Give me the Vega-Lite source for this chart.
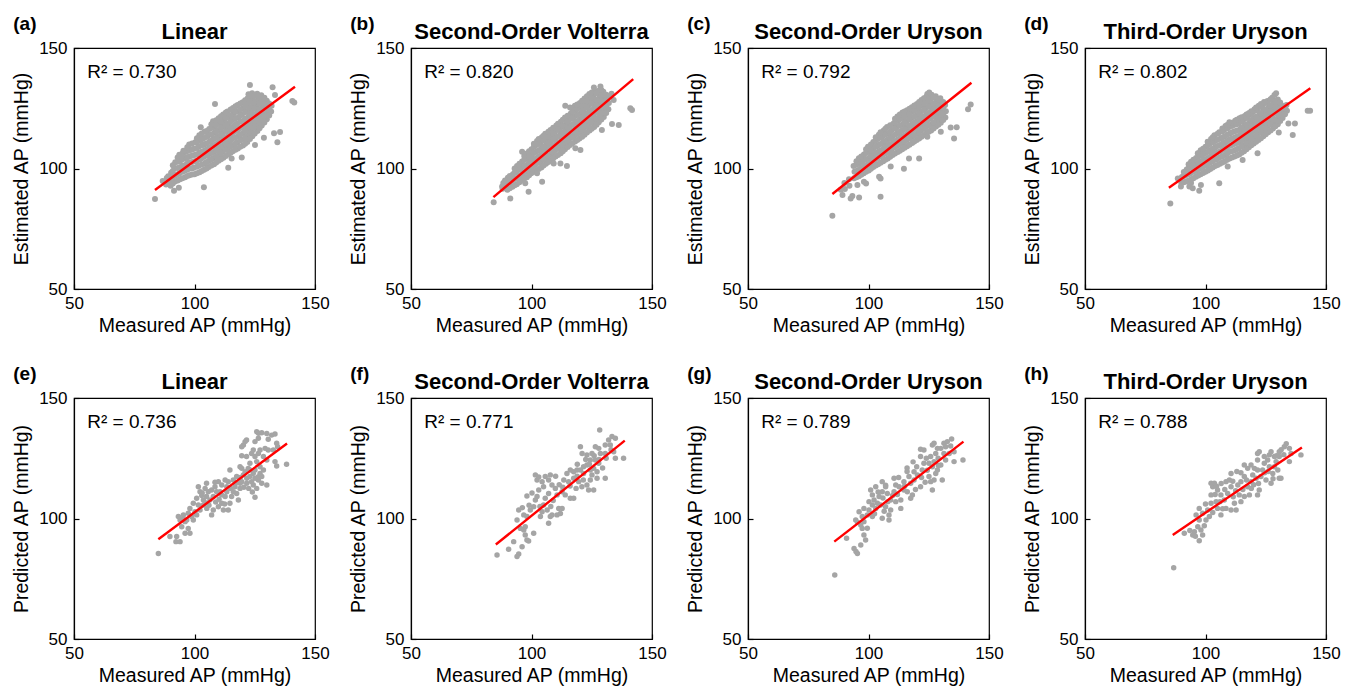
{
"$schema": "https://vega.github.io/schema/vega-lite/v6.json",
"background": "white",
"padding": {"left": 11, "top": 14, "right": 5, "bottom": 5},
"columns": 4,
"spacing": {"row": 109, "column": 96},
"bounds": "flush",
"concat": [
{"width": 241, "height": 241, "title": "Linear", "layer": [
 {"data": {"values": "x,y\n88.2,93.4\n88.5,96.1\n90.1,92.8\n89.8,95.3\n90.3,98.2\n91.9,94.6\n92.2,97.2\n91.7,100.1\n92.0,102.6\n94.0,95.5\n93.8,98.0\n94.3,100.6\n94.0,103.2\n93.7,105.7\n96.1,96.4\n95.9,99.1\n96.3,101.5\n96.0,104.3\n96.2,106.8\n97.9,97.2\n98.2,100.0\n97.7,102.6\n98.0,105.1\n98.3,107.7\n97.8,110.0\n100.0,97.6\n99.7,100.3\n100.2,103.0\n100.0,105.6\n99.8,108.2\n100.3,110.9\n102.1,98.4\n101.9,101.2\n102.3,103.8\n102.0,106.5\n101.8,109.1\n102.2,111.6\n102.0,113.8\n104.0,99.5\n104.3,102.1\n103.8,104.9\n104.1,107.4\n104.0,110.0\n103.7,112.6\n104.2,115.3\n105.9,100.6\n106.2,103.3\n105.8,105.8\n106.0,108.5\n106.3,111.1\n105.7,113.7\n106.1,116.4\n108.1,101.8\n107.8,104.4\n108.2,107.0\n108.0,109.6\n107.9,112.2\n108.3,114.8\n108.0,117.3\n107.7,119.6\n110.0,103.2\n110.2,105.7\n109.8,108.3\n110.1,110.9\n110.0,113.4\n109.7,116.0\n110.3,118.6\n110.0,120.8\n112.0,104.5\n111.8,107.1\n112.2,109.6\n112.0,112.2\n111.7,114.8\n112.1,117.4\n112.3,119.9\n111.9,122.4\n114.1,105.9\n113.9,108.4\n114.2,111.0\n114.0,113.6\n113.8,116.2\n114.3,118.7\n114.0,121.3\n113.7,123.7\n115.9,107.2\n116.2,109.8\n115.8,112.4\n116.0,115.0\n116.3,117.5\n115.7,120.1\n116.1,122.6\n116.0,125.1\n118.0,108.3\n117.8,110.9\n118.2,113.5\n118.0,116.1\n117.7,118.7\n118.3,121.3\n118.0,123.8\n117.9,126.4\n120.1,109.5\n119.8,112.1\n120.2,114.7\n120.0,117.2\n120.3,119.8\n119.7,122.4\n120.1,124.9\n120.0,127.5\n121.9,111.0\n122.2,113.6\n121.8,116.2\n122.0,118.8\n122.3,121.3\n121.7,123.9\n122.1,126.5\n122.0,129.0\n122.4,130.8\n124.0,113.4\n123.8,115.9\n124.2,118.5\n124.0,121.0\n123.7,123.6\n124.3,126.2\n124.0,128.7\n123.9,131.2\n126.1,115.6\n125.8,118.2\n126.2,120.7\n126.0,123.3\n125.7,125.8\n126.3,128.4\n126.0,131.0\n127.9,117.8\n128.2,120.3\n127.8,122.9\n128.0,125.4\n128.3,128.0\n127.7,130.4\n130.0,120.4\n129.8,123.0\n130.2,125.5\n130.0,128.1\n131.8,123.6\n132.0,126.0\n89.1,94.2\n89.1,96.8\n91.0,93.8\n91.0,96.4\n91.0,99.0\n91.0,101.3\n93.0,95.0\n93.0,97.6\n93.0,100.2\n93.0,102.8\n93.0,104.6\n95.0,96.0\n95.0,98.6\n95.0,101.2\n95.0,103.8\n95.0,106.2\n97.0,96.9\n97.0,99.5\n97.0,102.1\n97.0,104.7\n97.0,107.3\n97.0,108.8\n99.0,97.5\n99.0,100.1\n99.0,102.7\n99.0,105.3\n99.0,107.9\n99.0,110.4\n101.0,98.0\n101.0,100.7\n101.0,103.3\n101.0,105.9\n101.0,108.5\n101.0,111.1\n101.0,112.6\n103.0,99.0\n103.0,101.7\n103.0,104.3\n103.0,106.9\n103.0,109.5\n103.0,112.1\n103.0,114.5\n105.0,100.0\n105.0,102.7\n105.0,105.3\n105.0,107.9\n105.0,110.5\n105.0,113.1\n105.0,115.6\n107.0,101.2\n107.0,103.8\n107.0,106.4\n107.0,109.0\n107.0,111.6\n107.0,114.2\n107.0,116.8\n107.0,118.4\n109.0,102.5\n109.0,105.0\n109.0,107.6\n109.0,110.2\n109.0,112.8\n109.0,115.4\n109.0,118.0\n109.0,120.0\n111.0,103.8\n111.0,106.4\n111.0,109.0\n111.0,111.6\n111.0,114.2\n111.0,116.8\n111.0,119.4\n111.0,121.7\n113.0,105.2\n113.0,107.8\n113.0,110.4\n113.0,113.0\n113.0,115.6\n113.0,118.2\n113.0,120.8\n113.0,123.2\n115.0,106.5\n115.0,109.1\n115.0,111.7\n115.0,114.3\n115.0,116.9\n115.0,119.5\n115.0,122.1\n115.0,124.5\n117.0,107.8\n117.0,110.4\n117.0,113.0\n117.0,115.6\n117.0,118.2\n117.0,120.8\n117.0,123.4\n117.0,125.8\n119.0,109.0\n119.0,111.6\n119.0,114.2\n119.0,116.8\n119.0,119.4\n119.0,122.0\n119.0,124.6\n119.0,127.0\n121.0,110.3\n121.0,112.9\n121.0,115.5\n121.0,118.1\n121.0,120.7\n121.0,123.3\n121.0,125.9\n121.0,128.3\n123.0,112.2\n123.0,114.8\n123.0,117.4\n123.0,120.0\n123.0,122.6\n123.0,125.2\n123.0,127.8\n123.0,130.2\n125.0,114.5\n125.0,117.1\n125.0,119.7\n125.0,122.3\n125.0,124.9\n125.0,127.5\n125.0,130.1\n127.0,116.7\n127.0,119.3\n127.0,121.9\n127.0,124.5\n127.0,127.1\n127.0,129.7\n129.0,119.1\n129.0,121.7\n129.0,124.3\n129.0,126.9\n129.0,129.4\n131.0,122.0\n131.0,124.6\n131.0,127.0\n83.6,87.3\n86.8,94.8\n91.5,90.8\n93.5,92.0\n123.0,134.6\n132.4,133.7\n133.4,130.5\n140.6,128.0\n141.4,127.4\n108.5,126.8\n128.8,112.8\n133.0,114.6\n135.5,115.1\n134.4,110.9\n114.0,100.3\n119.6,104.6\n115.4,104.2\n103.9,92.2\n95.4,107.4\n94.7,105.2\n102.6,117.1\n125.1,109.8", "format": {"type": "csv", "parse": {"x": "number", "y": "number"}}},
  "mark": {"type": "circle", "size": 36, "color": "#a5a5a5", "opacity": 1},
  "encoding": {"x": {"field": "x", "type": "quantitative", "scale": {"domain": [50, 150]}, "axis": {"title": "Measured AP (mmHg)", "values": [50, 100, 150]}},
               "y": {"field": "y", "type": "quantitative", "scale": {"domain": [50, 150]}, "axis": {"title": "Estimated AP (mmHg)", "values": [50, 100, 150]}}}},
 {"data": {"values": [{"x": 83.6, "y": 91.1}, {"x": 141.7, "y": 133.9}]}, "mark": {"type": "line", "color": "#ff0000", "strokeWidth": 2.4},
  "encoding": {"x": {"field": "x", "type": "quantitative", "axis": {"title": "Measured AP (mmHg)", "values": [50, 100, 150]}}, "y": {"field": "y", "type": "quantitative", "axis": {"title": "Estimated AP (mmHg)", "values": [50, 100, 150]}}}},
 {"data": {"values": [{"t": "R² = 0.730"}]}, "mark": {"type": "text", "align": "left", "baseline": "middle", "fontSize": 19},
  "encoding": {"x": {"datum": 55.5}, "y": {"datum": 140.2}, "text": {"field": "t"}}},
 {"data": {"values": [{"t": "(a)"}]}, "mark": {"type": "text", "align": "left", "baseline": "middle", "fontSize": 19, "fontWeight": "bold"},
  "encoding": {"x": {"datum": 24.8}, "y": {"datum": 160}, "text": {"field": "t"}}}
]},
{"width": 241, "height": 241, "title": "Second-Order Volterra", "layer": [
 {"data": {"values": "x,y\n88.0,91.6\n88.3,94.0\n90.0,91.2\n89.8,93.8\n90.2,96.2\n92.1,92.4\n91.9,95.0\n92.3,97.6\n93.9,93.5\n94.2,96.1\n93.8,98.7\n94.0,101.0\n96.0,95.2\n96.3,97.8\n95.8,100.4\n96.1,102.9\n98.1,96.4\n97.8,99.0\n98.2,101.6\n98.0,104.2\n98.3,106.3\n99.9,98.0\n100.2,100.6\n99.8,103.2\n100.1,105.7\n100.0,108.0\n102.0,99.2\n101.8,101.8\n102.2,104.4\n102.0,107.0\n101.7,109.6\n102.3,111.4\n104.1,100.4\n103.9,103.0\n104.2,105.6\n104.0,108.2\n103.8,110.8\n104.3,113.0\n106.0,102.0\n106.2,104.6\n105.8,107.2\n106.1,109.8\n106.0,112.3\n105.7,114.4\n107.9,103.4\n108.2,106.0\n107.8,108.6\n108.0,111.2\n108.3,113.7\n107.9,116.0\n110.0,105.0\n109.8,107.6\n110.2,110.2\n110.0,112.8\n109.7,115.3\n110.3,117.8\n112.1,106.3\n111.9,108.9\n112.3,111.5\n112.0,114.1\n111.8,116.7\n112.2,119.4\n113.9,108.0\n114.2,110.6\n113.8,113.2\n114.0,115.8\n114.3,118.4\n113.9,121.2\n116.0,109.8\n115.8,112.4\n116.2,115.0\n116.0,117.6\n115.7,120.2\n116.3,122.8\n118.1,111.2\n117.9,113.8\n118.2,116.4\n118.0,119.0\n117.8,121.6\n118.3,124.2\n118.0,126.0\n119.9,112.4\n120.2,115.0\n119.8,117.6\n120.0,120.2\n120.3,122.8\n119.7,125.4\n120.1,127.2\n122.0,114.0\n121.8,116.6\n122.2,119.2\n122.0,121.8\n121.7,124.4\n122.3,127.0\n122.0,129.0\n124.1,115.8\n123.9,118.4\n124.2,121.0\n124.0,123.6\n123.8,126.2\n124.3,128.8\n124.0,130.9\n126.0,117.2\n126.2,119.8\n125.8,122.4\n126.1,125.0\n126.0,127.6\n125.7,130.2\n126.2,132.2\n127.9,119.2\n128.2,121.8\n127.8,124.4\n128.0,127.0\n128.3,129.6\n127.9,132.3\n130.0,121.4\n129.8,124.0\n130.2,126.6\n130.0,129.2\n129.8,131.8\n131.9,124.6\n132.1,127.2\n131.8,129.8\n89.0,92.5\n89.0,95.0\n91.0,91.8\n91.0,94.4\n91.0,96.9\n93.0,93.0\n93.0,95.6\n93.0,98.2\n93.0,100.0\n95.0,94.3\n95.0,96.9\n95.0,99.5\n95.0,102.0\n97.0,95.8\n97.0,98.4\n97.0,101.0\n97.0,103.6\n97.0,105.2\n99.0,97.2\n99.0,99.8\n99.0,102.4\n99.0,105.0\n99.0,107.2\n101.0,98.6\n101.0,101.2\n101.0,103.8\n101.0,106.4\n101.0,109.0\n101.0,110.3\n103.0,99.8\n103.0,102.4\n103.0,105.0\n103.0,107.6\n103.0,110.2\n103.0,112.2\n105.0,101.2\n105.0,103.8\n105.0,106.4\n105.0,109.0\n105.0,111.6\n105.0,113.6\n107.0,102.7\n107.0,105.3\n107.0,107.9\n107.0,110.5\n107.0,113.1\n107.0,115.3\n109.0,104.2\n109.0,106.8\n109.0,109.4\n109.0,112.0\n109.0,114.6\n109.0,116.9\n111.0,105.6\n111.0,108.2\n111.0,110.8\n111.0,113.4\n111.0,116.0\n111.0,118.6\n113.0,107.2\n113.0,109.8\n113.0,112.4\n113.0,115.0\n113.0,117.6\n113.0,120.2\n115.0,108.9\n115.0,111.5\n115.0,114.1\n115.0,116.7\n115.0,119.3\n115.0,121.9\n117.0,110.5\n117.0,113.1\n117.0,115.7\n117.0,118.3\n117.0,120.9\n117.0,123.5\n117.0,125.0\n119.0,111.8\n119.0,114.4\n119.0,117.0\n119.0,119.6\n119.0,122.2\n119.0,124.8\n119.0,126.6\n121.0,113.2\n121.0,115.8\n121.0,118.4\n121.0,121.0\n121.0,123.6\n121.0,126.2\n121.0,128.1\n123.0,114.9\n123.0,117.5\n123.0,120.1\n123.0,122.7\n123.0,125.3\n123.0,127.9\n123.0,130.0\n125.0,116.5\n125.0,119.1\n125.0,121.7\n125.0,124.3\n125.0,126.9\n125.0,129.5\n125.0,131.5\n127.0,118.2\n127.0,120.8\n127.0,123.4\n127.0,126.0\n127.0,128.6\n127.0,131.2\n129.0,120.3\n129.0,122.9\n129.0,125.5\n129.0,128.1\n129.0,130.7\n129.0,132.6\n131.0,123.0\n131.0,125.6\n131.0,128.2\n131.0,130.6\n84.3,86.0\n87.8,92.5\n91.2,87.6\n96.1,107.0\n98.8,90.4\n97.4,93.9\n104.4,94.5\n102.3,98.0\n109.2,102.1\n112.0,102.1\n114.7,101.0\n118.2,108.4\n120.3,107.7\n114.0,126.0\n116.0,125.3\n129.2,116.0\n133.4,118.5\n136.2,118.1\n141.0,125.0\n141.7,124.3\n134.1,128.4\n128.6,134.0\n125.9,133.6\n133.2,131.0", "format": {"type": "csv", "parse": {"x": "number", "y": "number"}}},
  "mark": {"type": "circle", "size": 36, "color": "#a5a5a5", "opacity": 1},
  "encoding": {"x": {"field": "x", "type": "quantitative", "scale": {"domain": [50, 150]}, "axis": {"title": "Measured AP (mmHg)", "values": [50, 100, 150]}},
               "y": {"field": "y", "type": "quantitative", "scale": {"domain": [50, 150]}, "axis": {"title": "Estimated AP (mmHg)", "values": [50, 100, 150]}}}},
 {"data": {"values": [{"x": 84.2, "y": 88.1}, {"x": 142.2, "y": 137.1}]}, "mark": {"type": "line", "color": "#ff0000", "strokeWidth": 2.4},
  "encoding": {"x": {"field": "x", "type": "quantitative", "axis": {"title": "Measured AP (mmHg)", "values": [50, 100, 150]}}, "y": {"field": "y", "type": "quantitative", "axis": {"title": "Estimated AP (mmHg)", "values": [50, 100, 150]}}}},
 {"data": {"values": [{"t": "R² = 0.820"}]}, "mark": {"type": "text", "align": "left", "baseline": "middle", "fontSize": 19},
  "encoding": {"x": {"datum": 55.5}, "y": {"datum": 140.2}, "text": {"field": "t"}}},
 {"data": {"values": [{"t": "(b)"}]}, "mark": {"type": "text", "align": "left", "baseline": "middle", "fontSize": 19, "fontWeight": "bold"},
  "encoding": {"x": {"datum": 24.8}, "y": {"datum": 160}, "text": {"field": "t"}}}
]},
{"width": 241, "height": 241, "title": "Second-Order Uryson", "layer": [
 {"data": {"values": "x,y\n90.2,91.5\n90.0,94.0\n92.1,92.8\n91.9,95.5\n94.0,96.0\n94.2,98.6\n93.8,101.0\n96.0,96.8\n95.8,99.4\n96.2,102.0\n96.0,104.3\n98.0,98.0\n98.2,100.6\n97.8,103.2\n98.1,105.8\n100.1,99.2\n99.9,101.8\n100.2,104.4\n100.0,107.0\n99.8,109.0\n102.0,100.6\n102.2,103.2\n101.8,105.8\n102.1,108.4\n102.0,111.0\n104.0,101.8\n103.8,104.4\n104.2,107.0\n104.0,109.6\n103.7,112.2\n104.3,114.0\n106.1,103.0\n105.9,105.6\n106.2,108.2\n106.0,110.8\n105.8,113.4\n106.3,115.8\n108.0,104.2\n108.2,106.8\n107.8,109.4\n108.0,112.0\n108.3,114.6\n107.7,117.2\n110.0,105.6\n109.8,108.2\n110.2,110.8\n110.0,113.4\n109.7,116.0\n110.3,118.6\n112.1,106.8\n111.9,109.4\n112.3,112.0\n112.0,114.6\n111.8,117.2\n112.2,119.8\n112.0,121.6\n114.0,108.0\n114.2,110.6\n113.8,113.2\n114.0,115.8\n114.3,118.4\n113.9,121.0\n114.1,123.2\n116.0,109.2\n115.8,111.8\n116.2,114.4\n116.0,117.0\n115.7,119.6\n116.3,122.2\n116.0,124.2\n118.1,110.6\n117.9,113.2\n118.2,115.8\n118.0,118.4\n117.8,121.0\n118.3,123.6\n118.0,125.4\n120.0,111.8\n120.2,114.4\n119.8,117.0\n120.0,119.6\n120.3,122.2\n119.7,124.8\n120.1,126.8\n122.0,113.2\n121.8,115.8\n122.2,118.4\n122.0,121.0\n121.7,123.6\n122.3,126.2\n122.0,128.4\n124.1,114.6\n123.9,117.2\n124.2,119.8\n124.0,122.4\n123.8,125.0\n124.3,127.6\n124.0,129.8\n126.0,115.8\n126.2,118.4\n125.8,121.0\n126.1,123.6\n126.0,126.2\n125.7,128.8\n126.2,130.6\n128.0,117.4\n128.2,120.0\n127.8,122.6\n128.0,125.2\n128.3,127.8\n127.9,130.0\n130.0,119.0\n129.8,121.6\n130.2,124.2\n130.0,126.8\n129.8,129.2\n131.9,121.2\n132.1,123.8\n131.8,126.4\n95.0,96.4\n95.0,99.0\n95.0,101.6\n95.0,103.0\n97.0,97.4\n97.0,100.0\n97.0,102.6\n97.0,105.0\n99.0,98.6\n99.0,101.2\n99.0,103.8\n99.0,106.4\n99.0,108.0\n101.0,99.9\n101.0,102.5\n101.0,105.1\n101.0,107.7\n101.0,110.0\n103.0,101.2\n103.0,103.8\n103.0,106.4\n103.0,109.0\n103.0,111.6\n103.0,113.0\n105.0,102.4\n105.0,105.0\n105.0,107.6\n105.0,110.2\n105.0,112.8\n105.0,115.0\n107.0,103.6\n107.0,106.2\n107.0,108.8\n107.0,111.4\n107.0,114.0\n107.0,116.5\n109.0,104.9\n109.0,107.5\n109.0,110.1\n109.0,112.7\n109.0,115.3\n109.0,117.9\n111.0,106.2\n111.0,108.8\n111.0,111.4\n111.0,114.0\n111.0,116.6\n111.0,119.2\n111.0,120.6\n113.0,107.4\n113.0,110.0\n113.0,112.6\n113.0,115.2\n113.0,117.8\n113.0,120.4\n113.0,122.4\n115.0,108.6\n115.0,111.2\n115.0,113.8\n115.0,116.4\n115.0,119.0\n115.0,121.6\n115.0,123.7\n117.0,109.9\n117.0,112.5\n117.0,115.1\n117.0,117.7\n117.0,120.3\n117.0,122.9\n117.0,124.8\n119.0,111.2\n119.0,113.8\n119.0,116.4\n119.0,119.0\n119.0,121.6\n119.0,124.2\n119.0,126.1\n121.0,112.5\n121.0,115.1\n121.0,117.7\n121.0,120.3\n121.0,122.9\n121.0,125.5\n121.0,127.6\n123.0,113.9\n123.0,116.5\n123.0,119.1\n123.0,121.7\n123.0,124.3\n123.0,126.9\n123.0,129.1\n125.0,115.2\n125.0,117.8\n125.0,120.4\n125.0,123.0\n125.0,125.6\n125.0,128.2\n125.0,130.2\n127.0,116.6\n127.0,119.2\n127.0,121.8\n127.0,124.4\n127.0,127.0\n127.0,129.4\n129.0,118.2\n129.0,120.8\n129.0,123.4\n129.0,126.0\n129.0,128.6\n131.0,120.1\n131.0,122.7\n131.0,125.3\n131.0,127.6\n85.0,80.4\n89.2,89.0\n92.6,87.6\n93.3,88.6\n96.1,88.0\n105.0,88.3\n88.5,91.2\n95.4,93.2\n98.1,94.5\n99.0,93.8\n104.4,96.6\n105.0,95.9\n109.2,100.8\n114.7,99.9\n116.8,104.2\n121.0,104.2\n130.0,115.3\n134.1,117.0\n136.6,117.1\n135.5,112.5\n124.4,113.2\n142.4,126.6\n141.3,124.6\n124.4,130.9\n125.2,131.5", "format": {"type": "csv", "parse": {"x": "number", "y": "number"}}},
  "mark": {"type": "circle", "size": 36, "color": "#a5a5a5", "opacity": 1},
  "encoding": {"x": {"field": "x", "type": "quantitative", "scale": {"domain": [50, 150]}, "axis": {"title": "Measured AP (mmHg)", "values": [50, 100, 150]}},
               "y": {"field": "y", "type": "quantitative", "scale": {"domain": [50, 150]}, "axis": {"title": "Estimated AP (mmHg)", "values": [50, 100, 150]}}}},
 {"data": {"values": [{"x": 85.0, "y": 89.4}, {"x": 142.7, "y": 135.6}]}, "mark": {"type": "line", "color": "#ff0000", "strokeWidth": 2.4},
  "encoding": {"x": {"field": "x", "type": "quantitative", "axis": {"title": "Measured AP (mmHg)", "values": [50, 100, 150]}}, "y": {"field": "y", "type": "quantitative", "axis": {"title": "Estimated AP (mmHg)", "values": [50, 100, 150]}}}},
 {"data": {"values": [{"t": "R² = 0.792"}]}, "mark": {"type": "text", "align": "left", "baseline": "middle", "fontSize": 19},
  "encoding": {"x": {"datum": 55.5}, "y": {"datum": 140.2}, "text": {"field": "t"}}},
 {"data": {"values": [{"t": "(c)"}]}, "mark": {"type": "text", "align": "left", "baseline": "middle", "fontSize": 19, "fontWeight": "bold"},
  "encoding": {"x": {"datum": 24.8}, "y": {"datum": 160}, "text": {"field": "t"}}}
]},
{"width": 241, "height": 241, "title": "Third-Order Uryson", "layer": [
 {"data": {"values": "x,y\n90.0,94.0\n90.2,96.5\n92.0,94.6\n91.8,97.2\n92.2,99.6\n94.0,95.4\n93.8,98.0\n94.2,100.6\n94.0,102.8\n96.0,96.6\n96.2,99.2\n95.8,101.8\n96.1,104.4\n98.0,97.6\n98.2,100.2\n97.8,102.8\n98.1,105.4\n98.0,107.6\n100.0,98.6\n100.2,101.2\n99.8,103.8\n100.1,106.4\n100.0,109.0\n102.0,99.8\n101.8,102.4\n102.2,105.0\n102.0,107.6\n101.7,110.2\n102.3,112.2\n104.0,101.0\n104.2,103.6\n103.8,106.2\n104.1,108.8\n104.0,111.4\n103.7,113.8\n106.0,102.0\n105.8,104.6\n106.2,107.2\n106.0,109.8\n106.3,112.4\n105.7,115.0\n108.0,103.0\n108.2,105.6\n107.8,108.2\n108.1,110.8\n108.0,113.4\n107.7,116.0\n108.3,117.6\n110.0,104.2\n109.8,106.8\n110.2,109.4\n110.0,112.0\n110.3,114.6\n109.7,117.2\n112.0,105.0\n112.2,107.6\n111.8,110.2\n112.1,112.8\n112.0,115.4\n111.7,118.0\n112.3,119.8\n114.0,105.8\n113.8,108.4\n114.2,111.0\n114.0,113.6\n114.3,116.2\n113.7,118.8\n114.1,120.8\n116.0,107.2\n116.2,109.8\n115.8,112.4\n116.1,115.0\n116.0,117.6\n115.7,120.2\n116.3,121.8\n118.0,108.8\n117.8,111.4\n118.2,114.0\n118.0,116.6\n118.3,119.2\n117.7,121.8\n118.1,123.0\n120.0,110.4\n120.2,113.0\n119.8,115.6\n120.1,118.2\n120.0,120.8\n119.7,123.4\n120.3,124.6\n122.0,111.8\n121.8,114.4\n122.2,117.0\n122.0,119.6\n122.3,122.2\n121.7,124.8\n122.1,126.0\n124.0,113.4\n124.2,116.0\n123.8,118.6\n124.1,121.2\n124.0,123.8\n123.7,126.4\n124.3,127.6\n126.0,115.0\n125.8,117.6\n126.2,120.2\n126.0,122.8\n126.3,125.4\n125.7,128.0\n128.0,116.6\n128.2,119.2\n127.8,121.8\n128.1,124.4\n128.0,127.0\n127.7,129.4\n130.0,118.4\n130.2,121.0\n129.8,123.6\n130.1,126.2\n130.0,128.6\n132.0,121.0\n132.2,123.6\n131.8,126.0\n133.8,124.0\n133.6,126.4\n91.0,94.3\n91.0,96.9\n91.0,98.5\n93.0,95.0\n93.0,97.6\n93.0,100.2\n93.0,101.8\n95.0,96.0\n95.0,98.6\n95.0,101.2\n95.0,103.6\n97.0,97.1\n97.0,99.7\n97.0,102.3\n97.0,104.9\n97.0,106.2\n99.0,98.1\n99.0,100.7\n99.0,103.3\n99.0,105.9\n99.0,108.2\n101.0,99.2\n101.0,101.8\n101.0,104.4\n101.0,107.0\n101.0,109.6\n101.0,111.0\n103.0,100.4\n103.0,103.0\n103.0,105.6\n103.0,108.2\n103.0,110.8\n103.0,113.0\n105.0,101.5\n105.0,104.1\n105.0,106.7\n105.0,109.3\n105.0,111.9\n105.0,114.4\n107.0,102.5\n107.0,105.1\n107.0,107.7\n107.0,110.3\n107.0,112.9\n107.0,115.5\n107.0,116.6\n109.0,103.6\n109.0,106.2\n109.0,108.8\n109.0,111.4\n109.0,114.0\n109.0,116.6\n109.0,118.0\n111.0,104.6\n111.0,107.2\n111.0,109.8\n111.0,112.4\n111.0,115.0\n111.0,117.6\n111.0,119.0\n113.0,105.4\n113.0,108.0\n113.0,110.6\n113.0,113.2\n113.0,115.8\n113.0,118.4\n113.0,120.2\n115.0,106.5\n115.0,109.1\n115.0,111.7\n115.0,114.3\n115.0,116.9\n115.0,119.5\n115.0,121.3\n117.0,108.0\n117.0,110.6\n117.0,113.2\n117.0,115.8\n117.0,118.4\n117.0,121.0\n117.0,122.4\n119.0,109.6\n119.0,112.2\n119.0,114.8\n119.0,117.4\n119.0,120.0\n119.0,122.6\n119.0,123.8\n121.0,111.1\n121.0,113.7\n121.0,116.3\n121.0,118.9\n121.0,121.5\n121.0,124.1\n121.0,125.3\n123.0,112.6\n123.0,115.2\n123.0,117.8\n123.0,120.4\n123.0,123.0\n123.0,125.6\n123.0,126.8\n125.0,114.2\n125.0,116.8\n125.0,119.4\n125.0,122.0\n125.0,124.6\n125.0,127.2\n127.0,115.8\n127.0,118.4\n127.0,121.0\n127.0,123.6\n127.0,126.2\n127.0,128.7\n129.0,117.5\n129.0,120.1\n129.0,122.7\n129.0,125.3\n129.0,127.8\n131.0,119.7\n131.0,122.3\n131.0,124.9\n131.0,127.4\n133.0,122.5\n133.0,125.0\n85.4,85.5\n88.5,95.9\n89.8,92.5\n93.3,92.5\n94.7,91.8\n97.4,90.8\n98.1,93.2\n105.7,93.9\n94.0,94.0\n109.2,100.8\n115.4,103.5\n121.6,106.3\n130.4,114.9\n134.4,118.7\n137.1,118.7\n136.2,113.9\n142.4,124.0\n143.4,124.0\n128.6,130.5\n129.3,131.2\n117.5,122.5\n109.9,119.2\n100.9,111.1\n96.8,106.3", "format": {"type": "csv", "parse": {"x": "number", "y": "number"}}},
  "mark": {"type": "circle", "size": 36, "color": "#a5a5a5", "opacity": 1},
  "encoding": {"x": {"field": "x", "type": "quantitative", "scale": {"domain": [50, 150]}, "axis": {"title": "Measured AP (mmHg)", "values": [50, 100, 150]}},
               "y": {"field": "y", "type": "quantitative", "scale": {"domain": [50, 150]}, "axis": {"title": "Estimated AP (mmHg)", "values": [50, 100, 150]}}}},
 {"data": {"values": [{"x": 84.8, "y": 92.0}, {"x": 143.5, "y": 133.3}]}, "mark": {"type": "line", "color": "#ff0000", "strokeWidth": 2.4},
  "encoding": {"x": {"field": "x", "type": "quantitative", "axis": {"title": "Measured AP (mmHg)", "values": [50, 100, 150]}}, "y": {"field": "y", "type": "quantitative", "axis": {"title": "Estimated AP (mmHg)", "values": [50, 100, 150]}}}},
 {"data": {"values": [{"t": "R² = 0.802"}]}, "mark": {"type": "text", "align": "left", "baseline": "middle", "fontSize": 19},
  "encoding": {"x": {"datum": 55.5}, "y": {"datum": 140.2}, "text": {"field": "t"}}},
 {"data": {"values": [{"t": "(d)"}]}, "mark": {"type": "text", "align": "left", "baseline": "middle", "fontSize": 19, "fontWeight": "bold"},
  "encoding": {"x": {"datum": 24.8}, "y": {"datum": 160}, "text": {"field": "t"}}}
]},
{"width": 241, "height": 241, "title": "Linear", "layer": [
 {"data": {"values": "x,y\n85.0,85.5\n89.8,92.5\n92.6,92.5\n92.3,90.4\n94.0,90.4\n96.1,93.9\n98.1,93.9\n97.4,95.9\n94.7,96.6\n94.0,99.4\n96.1,98.7\n93.3,100.8\n95.4,101.5\n97.4,102.2\n98.1,104.2\n98.8,100.8\n100.2,102.8\n101.6,105.6\n99.5,106.3\n100.9,108.4\n102.3,111.1\n101.6,113.2\n103.0,109.5\n103.7,107.7\n104.4,112.5\n105.7,111.1\n106.4,107.7\n107.1,101.5\n107.8,103.5\n105.1,104.2\n109.9,104.9\n112.0,103.5\n111.3,106.3\n114.0,103.5\n114.7,106.3\n109.9,115.3\n110.6,111.1\n113.4,113.2\n114.0,115.3\n114.7,120.1\n116.8,113.2\n117.5,110.4\n118.9,112.5\n119.6,115.3\n120.3,118.1\n119.6,120.8\n118.9,121.5\n121.7,116.7\n122.3,120.8\n123.0,122.9\n124.4,113.9\n125.1,116.7\n125.1,108.8\n125.8,112.5\n126.5,116.0\n127.2,118.7\n127.9,114.6\n130.0,113.9\n125.8,123.6\n126.5,127.0\n125.1,125.7\n123.7,127.0\n124.4,128.4\n121.6,125.7\n119.6,126.0\n120.3,130.5\n121.0,131.9\n125.8,136.0\n126.6,135.4\n127.9,135.6\n130.0,135.3\n132.0,134.6\n133.4,135.1\n130.6,132.9\n134.1,131.2\n134.5,129.8\n132.7,128.4\n130.6,128.4\n129.3,129.1\n127.2,128.4\n128.6,125.7\n130.0,124.3\n133.4,123.6\n134.1,121.8\n138.2,122.5\n126.5,133.3\n125.1,131.9\n119.6,129.8\n121.6,132.6\n105.0,114.6\n107.1,111.8\n108.5,113.2\n109.2,111.1\n111.3,109.8\n112.7,109.1\n113.4,111.1\n115.4,109.1\n116.1,111.1\n118.2,107.7\n118.9,114.6\n121.7,114.6\n123.0,117.4\n123.7,115.3\n124.4,118.7\n126.5,117.3\n127.9,117.4\n128.6,120.1\n127.2,121.5\n125.1,120.1\n123.0,120.1\n121.0,119.4\n117.5,117.4\n116.1,116.0\n112.7,116.0\n111.3,113.9\n108.5,115.0\n107.8,109.1\n105.0,109.1\n103.2,110.6\n103.7,105.6\n102.3,103.5\n100.9,101.5\n99.5,99.4\n96.8,99.4\n95.2,99.8\n104.5,106.5\n106.0,105.5\n108.8,106.8\n110.2,108.0\n112.5,106.0\n115.0,112.5\n117.0,114.6\n119.0,117.0\n120.5,113.0\n122.5,112.5\n124.0,111.0", "format": {"type": "csv", "parse": {"x": "number", "y": "number"}}},
  "mark": {"type": "circle", "size": 30, "color": "#a5a5a5", "opacity": 1},
  "encoding": {"x": {"field": "x", "type": "quantitative", "scale": {"domain": [50, 150]}, "axis": {"title": "Measured AP (mmHg)", "values": [50, 100, 150]}},
               "y": {"field": "y", "type": "quantitative", "scale": {"domain": [50, 150]}, "axis": {"title": "Predicted AP (mmHg)", "values": [50, 100, 150]}}}},
 {"data": {"values": [{"x": 85.0, "y": 91.4}, {"x": 138.4, "y": 131.1}]}, "mark": {"type": "line", "color": "#ff0000", "strokeWidth": 2.4},
  "encoding": {"x": {"field": "x", "type": "quantitative", "axis": {"title": "Measured AP (mmHg)", "values": [50, 100, 150]}}, "y": {"field": "y", "type": "quantitative", "axis": {"title": "Predicted AP (mmHg)", "values": [50, 100, 150]}}}},
 {"data": {"values": [{"t": "R² = 0.736"}]}, "mark": {"type": "text", "align": "left", "baseline": "middle", "fontSize": 19},
  "encoding": {"x": {"datum": 55.5}, "y": {"datum": 140.2}, "text": {"field": "t"}}},
 {"data": {"values": [{"t": "(e)"}]}, "mark": {"type": "text", "align": "left", "baseline": "middle", "fontSize": 19, "fontWeight": "bold"},
  "encoding": {"x": {"datum": 24.8}, "y": {"datum": 160}, "text": {"field": "t"}}}
]},
{"width": 241, "height": 241, "title": "Second-Order Volterra", "layer": [
 {"data": {"values": "x,y\n85.7,84.9\n90.5,87.2\n94.7,85.3\n94.0,84.2\n92.6,90.4\n96.1,88.3\n98.1,91.1\n98.8,90.7\n97.4,93.2\n96.8,95.2\n97.4,96.6\n95.4,95.9\n100.9,93.9\n94.0,99.4\n94.7,103.5\n96.8,101.5\n98.1,100.8\n99.5,103.5\n100.9,104.9\n98.1,109.3\n101.6,107.7\n102.3,109.1\n103.0,111.8\n101.6,118.1\n103.7,100.8\n104.4,102.8\n107.1,98.0\n107.8,100.8\n108.5,101.5\n110.6,101.5\n112.0,102.1\n112.7,104.2\n111.3,104.2\n105.0,105.6\n105.7,108.4\n107.1,110.4\n105.0,113.2\n104.4,115.3\n107.1,116.0\n105.7,117.4\n107.8,118.1\n108.5,113.9\n109.9,112.5\n110.6,109.8\n112.7,111.1\n114.0,109.8\n116.1,108.4\n117.5,108.4\n113.4,116.0\n114.7,118.7\n115.4,115.3\n117.5,116.7\n117.5,119.4\n118.9,120.1\n120.3,120.1\n116.1,120.1\n118.9,117.5\n119.6,115.3\n121.6,118.7\n121.6,121.5\n123.0,122.2\n124.4,120.1\n125.8,120.8\n125.1,118.1\n124.4,116.0\n123.0,113.9\n120.9,113.2\n123.7,111.8\n125.8,111.8\n127.2,116.7\n127.2,119.4\n127.9,122.9\n126.5,124.3\n124.4,124.3\n123.0,126.4\n120.3,129.8\n121.0,127.0\n125.1,127.0\n126.5,129.8\n128.6,127.0\n127.9,129.1\n130.6,130.5\n130.6,127.0\n130.6,116.7\n132.0,132.6\n133.4,134.0\n134.8,133.3\n132.7,130.5\n134.1,127.7\n134.8,125.0\n138.2,125.0\n128.3,136.7\n102.3,116.0\n103.0,117.2\n100.2,110.6\n99.0,105.5\n96.2,104.5\n103.5,105.0\n106.5,103.5\n109.0,107.5\n111.5,114.0\n113.0,113.0\n116.0,113.5\n118.5,112.5\n121.5,116.0\n122.5,124.5\n124.0,122.5\n126.0,126.0\n128.0,124.5\n129.5,121.0\n131.0,125.0\n133.0,128.5\n119.0,122.5\n110.0,117.5\n108.0,105.0", "format": {"type": "csv", "parse": {"x": "number", "y": "number"}}},
  "mark": {"type": "circle", "size": 30, "color": "#a5a5a5", "opacity": 1},
  "encoding": {"x": {"field": "x", "type": "quantitative", "scale": {"domain": [50, 150]}, "axis": {"title": "Measured AP (mmHg)", "values": [50, 100, 150]}},
               "y": {"field": "y", "type": "quantitative", "scale": {"domain": [50, 150]}, "axis": {"title": "Predicted AP (mmHg)", "values": [50, 100, 150]}}}},
 {"data": {"values": [{"x": 85.2, "y": 89.2}, {"x": 138.7, "y": 132.3}]}, "mark": {"type": "line", "color": "#ff0000", "strokeWidth": 2.4},
  "encoding": {"x": {"field": "x", "type": "quantitative", "axis": {"title": "Measured AP (mmHg)", "values": [50, 100, 150]}}, "y": {"field": "y", "type": "quantitative", "axis": {"title": "Predicted AP (mmHg)", "values": [50, 100, 150]}}}},
 {"data": {"values": [{"t": "R² = 0.771"}]}, "mark": {"type": "text", "align": "left", "baseline": "middle", "fontSize": 19},
  "encoding": {"x": {"datum": 55.5}, "y": {"datum": 140.2}, "text": {"field": "t"}}},
 {"data": {"values": [{"t": "(f)"}]}, "mark": {"type": "text", "align": "left", "baseline": "middle", "fontSize": 19, "fontWeight": "bold"},
  "encoding": {"x": {"datum": 24.8}, "y": {"datum": 160}, "text": {"field": "t"}}}
]},
{"width": 241, "height": 241, "title": "Second-Order Uryson", "layer": [
 {"data": {"values": "x,y\n86.0,76.6\n90.9,91.8\n94.0,87.6\n95.4,85.5\n94.8,86.3\n96.8,89.0\n98.8,91.1\n98.1,93.2\n97.4,95.9\n96.8,97.3\n94.7,99.4\n95.4,98.5\n98.1,98.7\n97.4,100.8\n99.5,101.5\n96.1,102.8\n98.1,104.2\n100.2,103.5\n101.6,105.6\n100.2,107.0\n102.3,107.7\n101.6,109.8\n100.9,111.8\n103.0,113.2\n105.7,115.3\n107.1,113.8\n105.7,111.1\n104.4,109.1\n103.7,106.3\n105.0,105.6\n105.7,100.1\n108.5,99.4\n108.5,101.5\n109.2,103.5\n107.1,104.9\n111.3,107.0\n113.4,104.2\n113.4,107.7\n110.6,111.1\n109.2,107.7\n111.3,113.9\n110.6,116.7\n112.7,113.2\n114.7,111.8\n116.1,111.1\n117.5,108.4\n118.2,109.8\n114.7,115.3\n117.5,114.6\n116.8,117.4\n118.9,116.0\n118.9,119.4\n120.3,118.1\n121.6,113.2\n122.3,120.1\n123.0,122.9\n121.6,125.7\n123.0,128.4\n121.6,128.7\n124.4,120.0\n125.1,117.4\n126.5,111.8\n125.8,115.3\n127.2,116.0\n127.9,118.7\n126.5,121.5\n125.1,122.9\n127.2,123.6\n128.6,120.1\n130.6,116.0\n130.0,122.2\n128.9,125.0\n127.9,127.0\n125.8,125.7\n126.5,130.5\n127.2,131.2\n131.3,131.2\n132.0,129.8\n132.7,131.9\n134.1,130.1\n135.5,127.7\n131.3,127.0\n132.0,124.3\n135.5,123.6\n139.2,124.3\n130.0,129.1\n128.6,129.1\n107.1,113.2\n107.8,110.4\n103.0,104.2\n101.6,100.8\n104.0,111.0\n106.0,108.5\n108.0,107.0\n110.0,109.5\n112.0,110.0\n112.5,117.0\n115.0,113.5\n116.0,119.5\n119.5,112.0\n120.0,121.5\n122.0,117.0\n123.5,115.0\n124.0,125.0\n129.0,122.0\n133.5,127.0\n134.5,133.0\n99.5,96.0\n102.5,102.0\n106.5,103.0\n116.0,121.0\n118.5,123.5", "format": {"type": "csv", "parse": {"x": "number", "y": "number"}}},
  "mark": {"type": "circle", "size": 30, "color": "#a5a5a5", "opacity": 1},
  "encoding": {"x": {"field": "x", "type": "quantitative", "scale": {"domain": [50, 150]}, "axis": {"title": "Measured AP (mmHg)", "values": [50, 100, 150]}},
               "y": {"field": "y", "type": "quantitative", "scale": {"domain": [50, 150]}, "axis": {"title": "Predicted AP (mmHg)", "values": [50, 100, 150]}}}},
 {"data": {"values": [{"x": 85.8, "y": 90.4}, {"x": 139.4, "y": 131.9}]}, "mark": {"type": "line", "color": "#ff0000", "strokeWidth": 2.4},
  "encoding": {"x": {"field": "x", "type": "quantitative", "axis": {"title": "Measured AP (mmHg)", "values": [50, 100, 150]}}, "y": {"field": "y", "type": "quantitative", "axis": {"title": "Predicted AP (mmHg)", "values": [50, 100, 150]}}}},
 {"data": {"values": [{"t": "R² = 0.789"}]}, "mark": {"type": "text", "align": "left", "baseline": "middle", "fontSize": 19},
  "encoding": {"x": {"datum": 55.5}, "y": {"datum": 140.2}, "text": {"field": "t"}}},
 {"data": {"values": [{"t": "(g)"}]}, "mark": {"type": "text", "align": "left", "baseline": "middle", "fontSize": 19, "fontWeight": "bold"},
  "encoding": {"x": {"datum": 24.8}, "y": {"datum": 160}, "text": {"field": "t"}}}
]},
{"width": 241, "height": 241, "title": "Third-Order Uryson", "layer": [
 {"data": {"values": "x,y\n86.8,79.6\n91.2,93.9\n94.7,93.2\n95.4,94.5\n97.4,90.8\n98.8,93.2\n98.1,95.2\n96.8,96.6\n97.4,99.4\n100.2,99.4\n96.1,101.5\n97.4,104.2\n98.8,102.2\n101.6,100.8\n100.9,103.5\n102.3,106.3\n103.0,102.5\n104.4,107.0\n105.0,104.2\n106.4,101.5\n107.1,104.0\n108.5,104.2\n110.6,103.5\n112.7,103.5\n112.0,106.3\n114.7,107.0\n114.0,109.8\n116.1,109.1\n118.2,109.8\n121.6,109.8\n122.3,111.8\n102.3,109.8\n103.0,113.2\n102.3,114.6\n103.7,114.6\n105.0,111.8\n106.4,109.8\n107.8,107.7\n109.2,110.4\n110.6,113.2\n108.5,115.3\n109.9,116.0\n111.3,115.5\n113.4,113.9\n114.7,115.3\n116.1,117.4\n117.5,113.2\n118.9,115.3\n119.6,118.1\n121.6,120.1\n120.3,120.8\n117.5,120.8\n116.1,122.2\n118.9,122.2\n121.0,116.7\n123.0,117.4\n123.7,120.1\n124.4,122.9\n121.6,124.3\n125.8,124.3\n126.5,121.5\n127.2,114.6\n125.1,116.0\n127.9,118.7\n128.6,121.5\n129.3,123.6\n126.5,126.4\n124.4,125.7\n128.6,125.7\n130.6,125.7\n130.6,127.7\n132.7,129.8\n131.4,128.5\n134.8,129.1\n135.5,127.0\n134.8,123.6\n139.6,126.4\n121.6,127.0\n122.3,127.7\n127.2,127.7\n130.6,116.7\n131.3,116.7\n130.0,120.1\n114.7,119.0\n110.6,118.7\n113.0,119.5\n104.0,110.0\n106.0,107.0\n108.0,112.0\n111.5,109.0\n112.5,111.5\n115.5,112.0\n117.0,116.0\n119.0,112.5\n120.0,114.0\n122.0,114.5\n124.5,119.0\n126.0,119.5\n128.0,116.5\n129.5,126.0\n132.5,126.5\n133.5,131.0\n104.6,113.4\n100.0,106.0\n99.5,97.0\n93.5,95.0\n95.8,92.6\n106.5,114.5", "format": {"type": "csv", "parse": {"x": "number", "y": "number"}}},
  "mark": {"type": "circle", "size": 30, "color": "#a5a5a5", "opacity": 1},
  "encoding": {"x": {"field": "x", "type": "quantitative", "scale": {"domain": [50, 150]}, "axis": {"title": "Measured AP (mmHg)", "values": [50, 100, 150]}},
               "y": {"field": "y", "type": "quantitative", "scale": {"domain": [50, 150]}, "axis": {"title": "Predicted AP (mmHg)", "values": [50, 100, 150]}}}},
 {"data": {"values": [{"x": 86.4, "y": 93.2}, {"x": 140.0, "y": 129.5}]}, "mark": {"type": "line", "color": "#ff0000", "strokeWidth": 2.4},
  "encoding": {"x": {"field": "x", "type": "quantitative", "axis": {"title": "Measured AP (mmHg)", "values": [50, 100, 150]}}, "y": {"field": "y", "type": "quantitative", "axis": {"title": "Predicted AP (mmHg)", "values": [50, 100, 150]}}}},
 {"data": {"values": [{"t": "R² = 0.788"}]}, "mark": {"type": "text", "align": "left", "baseline": "middle", "fontSize": 19},
  "encoding": {"x": {"datum": 55.5}, "y": {"datum": 140.2}, "text": {"field": "t"}}},
 {"data": {"values": [{"t": "(h)"}]}, "mark": {"type": "text", "align": "left", "baseline": "middle", "fontSize": 19, "fontWeight": "bold"},
  "encoding": {"x": {"datum": 24.8}, "y": {"datum": 160}, "text": {"field": "t"}}}
]}
],
"config": {
 "font": "Liberation Sans",
 "view": {"stroke": "#000000", "strokeWidth": 1.2},
 "axis": {"grid": false, "domainColor": "#000000", "domainWidth": 1.2, "tickColor": "#000000", "tickSize": -5, "tickWidth": 1.2, "labelColor": "#000000", "labelFontSize": 17, "labelFlush": false, "titleColor": "#000000", "titleFontSize": 19.5, "titleFontWeight": "normal"},
 "axisX": {"labelPadding": 11, "titlePadding": 5},
 "axisY": {"labelPadding": 12, "titlePadding": 7},
 "title": {"fontSize": 22, "fontWeight": "bold", "color": "#000000", "offset": -29, "baseline": "alphabetic", "frame": "group"}
}
}
